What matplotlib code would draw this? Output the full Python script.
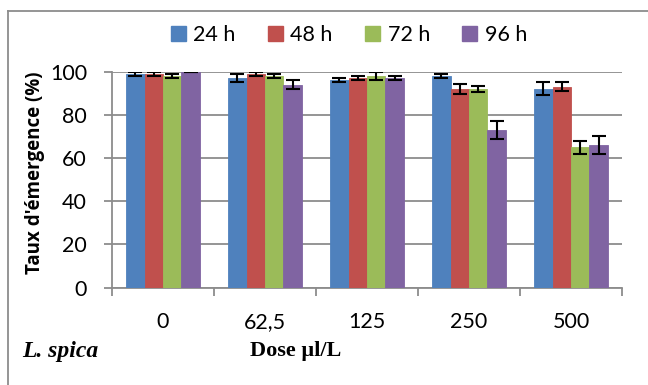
import matplotlib
matplotlib.use("Agg")
import matplotlib.pyplot as plt
import numpy as np
from matplotlib.patches import Rectangle
from matplotlib.lines import Line2D

categories = ["0", "62,5", "125", "250", "500"]
series = ["24 h", "48 h", "72 h", "96 h"]
colors = ["#4F81BD", "#C0504D", "#9BBB59", "#8064A2"]
v24 = [99, 97, 96, 98, 92]
v48 = [99, 99, 97, 92, 93]
v72 = [98, 98, 98, 92, 65]
v96 = [100, 94, 97, 73, 66]
e24 = [1, 2, 1, 1, 3]
e48 = [1, 1, 1, 2.5, 2]
e72 = [1, 1, 2, 1.5, 3]
e96 = [0, 2, 1, 4, 4]
values = [v24, v48, v72, v96]
errors = [e24, e48, e72, e96]
yticks = [0, 20, 40, 60, 80, 100]

plt.rcParams['font.family'] = ['Lato', 'DejaVu Sans']

W, H = 648, 385
fig = plt.figure(figsize=(W / 100, H / 100), dpi=100)
ax = fig.add_axes([112 / W, 1 - 287.5 / H, (622 - 112) / W, (287.5 - 71.7) / H])

x = np.arange(len(categories))
bw = 0.18
for i, (vals, errs, c) in enumerate(zip(values, errors, colors)):
    pos = x + (i - 1.5) * bw
    ax.bar(pos, vals, width=bw, color=c, edgecolor=c, linewidth=0.6, zorder=3)
    ax.errorbar(pos, vals, yerr=errs, fmt='none', ecolor='black', elinewidth=1.5,
                capsize=5, capthick=1.5, zorder=4)

ax.set_xlim(-0.5, len(categories) - 0.5)
ax.set_ylim(0, 100)
ax.set_yticks(yticks)
ax.set_yticklabels([str(t) for t in yticks])
ax.yaxis.grid(True, color='#8C8C8C', linewidth=1.3, zorder=0)
ax.set_axisbelow(True)

ax.set_xticks(x)
ax.set_xticklabels(categories)
ax.set_xticks(np.arange(-0.5, len(categories)), minor=True)
ax.tick_params(axis='x', which='major', length=0, pad=18, labelsize=15.5)
ax.tick_params(axis='x', which='minor', length=6, width=1.3, color='#8C8C8C', direction='out')
ax.tick_params(axis='y', length=6, width=1.3, color='#8C8C8C', labelsize=15.5, pad=12)

for s in ['top', 'right']:
    ax.spines[s].set_visible(False)
for s in ['left', 'bottom']:
    ax.spines[s].set_color('#8C8C8C')
    ax.spines[s].set_linewidth(1.3)

fig.text(35 / W, 1 - 173 / H, "Taux d'émergence (%)", rotation=90, ha='center', va='center',
         fontsize=13.5, fontweight='bold', family=['Open Sans', 'DejaVu Sans'])

fig.text(22 / W, 1 - 351 / H, "L. spica", ha='left', va='center', fontsize=17,
         fontweight='bold', fontstyle='italic', family=['Liberation Serif'])
fig.text(296 / W, 1 - 351 / H, "Dose µl/L", ha='center', va='center', fontsize=16,
         fontweight='bold', family=['Liberation Serif'])

handles = [Rectangle((0, 0), 1, 1, color=c) for c in colors]
fig.legend(handles, series, loc='center', bbox_to_anchor=(349 / W, 1 - 35 / H), ncol=4,
           frameon=False, fontsize=15.5, handlelength=0.7, handleheight=0.7,
           handletextpad=0.35, columnspacing=1.5)

# outer chart frame (top and left edges visible)
fig.add_artist(Line2D([8 / W, 8 / W], [0, 1 - 11 / H], transform=fig.transFigure,
                      color='#8C8C8C', linewidth=1.3))
fig.add_artist(Line2D([8 / W, 1], [1 - 11 / H, 1 - 11 / H], transform=fig.transFigure,
                      color='#8C8C8C', linewidth=1.3))

fig.savefig("out.png", dpi=100)
